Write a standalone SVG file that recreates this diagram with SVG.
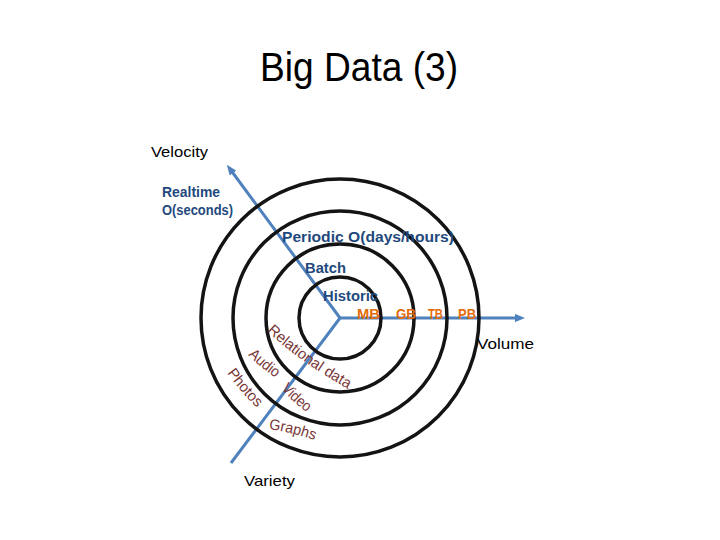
<svg xmlns="http://www.w3.org/2000/svg" width="720" height="540" viewBox="0 0 720 540">
<style>
text{font-family:"Liberation Sans","DejaVu Sans",sans-serif}
.ring{fill:none;stroke:#141414;stroke-width:3.5}
.axis{stroke:#4F81BD;stroke-width:3;fill:none}
.lbl{font-size:15px;fill:#000}
.blue{font-size:14px;font-weight:bold;fill:#1F497D}
.org{font-size:14px;font-weight:bold;fill:#E46C0A}
.arc{font-size:15px;fill:#7A3636}
</style>
<defs>
<marker id="ah" viewBox="0 0 10 8" refX="5" refY="4" markerWidth="3.5" markerHeight="2.8" orient="auto" markerUnits="strokeWidth">
<path d="M0,0 L10,4 L0,8 z" fill="#4F81BD"/>
</marker>
<path id="pRel" d="M267,331 Q300,362 350,390"/>
<path id="pAud" d="M248,355 Q262,369 280,381"/>
<path id="pPho" d="M227,373 Q240,391 258,409"/>
<path id="pVid" d="M281,389 Q293,402 309,414"/>
<path id="pGra" d="M269,429 Q292,432 317,441"/>
</defs>
<rect width="720" height="540" fill="#fff"/>
<g id="title"><text x="260" y="81" font-size="40" textLength="198" lengthAdjust="spacingAndGlyphs">Big Data (3)</text></g>
<g id="connectors">
<line class="axis" x1="340" y1="318" x2="520" y2="318" marker-end="url(#ah)"/>
<line class="axis" x1="340" y1="318" x2="230" y2="169" marker-end="url(#ah)"/>
<line class="axis" x1="340" y1="318" x2="231" y2="463"/>
</g>
<g id="rings">
<circle class="ring" cx="340" cy="318" r="41"/>
<circle class="ring" cx="340" cy="318" r="74"/>
<circle class="ring" cx="340" cy="318" r="107"/>
<circle class="ring" cx="340" cy="318" r="139"/>
</g>
<g id="velocity">
<text class="lbl" x="151" y="157" textLength="57" lengthAdjust="spacingAndGlyphs">Velocity</text>
<text class="blue" x="162" y="197" textLength="58" lengthAdjust="spacingAndGlyphs">Realtime</text>
<text class="blue" x="162" y="215" textLength="71" lengthAdjust="spacingAndGlyphs">O(seconds)</text>
<text class="blue" x="282" y="242" textLength="172" lengthAdjust="spacingAndGlyphs">Periodic O(days/hours)</text>
<text class="blue" x="305" y="273" textLength="41" lengthAdjust="spacingAndGlyphs">Batch</text>
<text class="blue" x="323" y="301" textLength="55" lengthAdjust="spacingAndGlyphs">Historic</text>
</g>
<g id="volume">
<text class="org" x="357" y="319" textLength="23" lengthAdjust="spacingAndGlyphs">MB</text>
<text class="org" x="396" y="319" textLength="20" lengthAdjust="spacingAndGlyphs">GB</text>
<text class="org" x="428" y="319" textLength="15" lengthAdjust="spacingAndGlyphs">TB</text>
<text class="org" x="458" y="319" textLength="18" lengthAdjust="spacingAndGlyphs">PB</text>
<text class="lbl" x="477" y="349" textLength="57" lengthAdjust="spacingAndGlyphs">Volume</text>
</g>
<g id="variety">
<text class="arc"><textPath href="#pRel" textLength="100" lengthAdjust="spacingAndGlyphs">Relational data</textPath></text>
<text class="arc"><textPath href="#pAud" textLength="36" lengthAdjust="spacingAndGlyphs">Audio</textPath></text>
<text class="arc"><textPath href="#pPho" textLength="46" lengthAdjust="spacingAndGlyphs">Photos</textPath></text>
<text class="arc"><textPath href="#pVid" textLength="35" lengthAdjust="spacingAndGlyphs">Video</textPath></text>
<text class="arc"><textPath href="#pGra" textLength="47" lengthAdjust="spacingAndGlyphs">Graphs</textPath></text>
<text class="lbl" x="244" y="486" textLength="51" lengthAdjust="spacingAndGlyphs">Variety</text>
</g>
</svg>
